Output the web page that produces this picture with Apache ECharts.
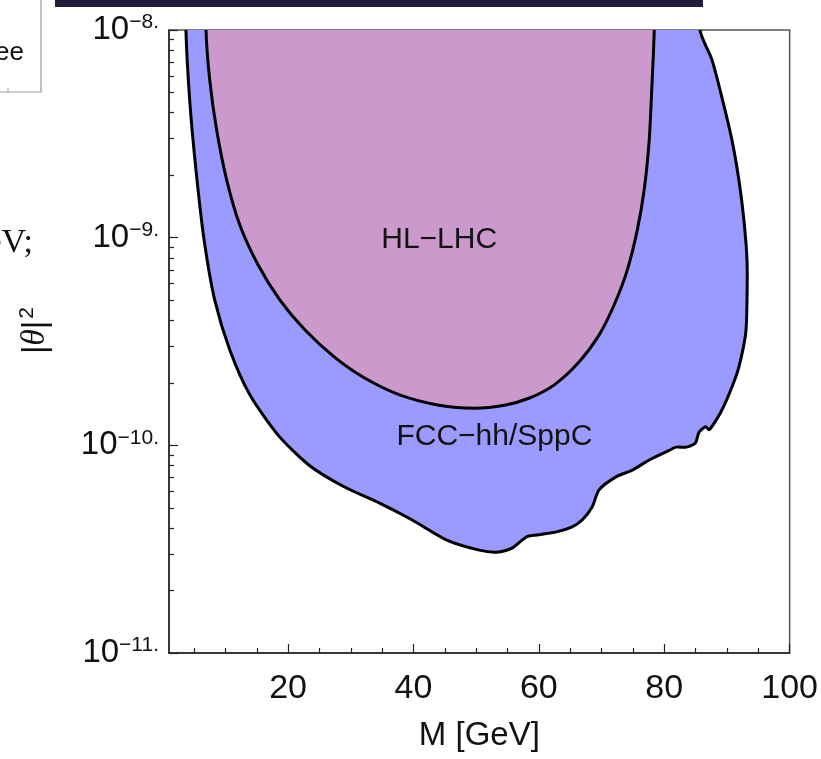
<!DOCTYPE html>
<html>
<head>
<meta charset="utf-8">
<script src="https://cdn.jsdelivr.net/npm/echarts@6/dist/echarts.min.js"></script>
<style>
  html, body { margin: 0; padding: 0; background: #ffffff; }
  #chart { width: 821px; height: 759px; }
</style>
</head>
<body>
<div id="chart"></div>
<script>
// Sensitivity contour of FCC-hh/SppC: heavy neutrino mass M [GeV] vs |theta|^2
const fccMass = [3.7, 4.3, 5.3, 6.6, 8.3, 10.7, 13.9, 18.4, 23.4, 29.0, 34.6, 39.8, 45.3, 50.5, 53.2,
  55.8, 58.0, 59.6, 62.8, 65.3, 66.9, 68.5, 69.6, 72.3, 74.9, 77.6, 80.3, 81.9, 83.5, 85.0,
  85.5, 86.6, 87.1, 87.6, 89.2, 90.8, 91.9, 93.0, 93.2, 93.2, 92.7, 91.9, 90.8, 89.3, 87.6, 85.7];
const fccTheta2 = [1e-8, 4.6e-9, 2.12e-9, 9.75e-10, 5.0e-10, 2.88e-10, 1.75e-10, 1.12e-10, 8.0e-11, 6.3e-11, 5.27e-11,
  4.37e-11, 3.5e-11, 3.13e-11, 3.06e-11, 3.21e-11, 3.62e-11, 3.7e-11, 3.83e-11, 4.05e-11, 4.37e-11, 5.05e-11,
  6.1e-11, 7.05e-11, 7.6e-11, 8.5e-11, 9.3e-11, 9.8e-11, 9.8e-11, 1.03e-10, 1.15e-10, 1.23e-10, 1.19e-10,
  1.23e-10, 1.48e-10, 1.91e-10, 2.38e-10, 3.48e-10, 5.0e-10, 7.8e-10, 1.22e-9, 1.9e-9, 2.95e-9, 4.6e-9, 7.2e-9, 1e-8];

// Sensitivity contour of HL-LHC
const hlMass = [6.9, 7.5, 8.6, 10.2, 12.3, 15.2, 18.7, 22.7, 27.4, 32.2, 37.8, 44.1, 49.7, 54.5, 58.5,
  62.4, 66.4, 69.6, 72.0, 74.1, 75.7, 76.8, 77.6, 78.0, 78.4];
const hlTheta2 = [1e-8, 5.74e-9, 3.3e-9, 1.9e-9, 1.15e-9, 7.4e-10, 5.0e-10, 3.59e-10, 2.66e-10, 2.11e-10, 1.75e-10,
  1.56e-10, 1.51e-10, 1.56e-10, 1.69e-10, 1.95e-10, 2.52e-10, 3.4e-10, 4.74e-10, 6.98e-10, 1.09e-9, 1.7e-9,
  2.95e-9, 5.14e-9, 1e-8];

// Region names and where they sit (M, |theta|^2)
const regionNames = ['FCC\u2212hh/SppC', 'HL\u2212LHC'];
const regionNameAt = [[52.9, 1.1e-10], [44.1, 9.8e-10]];

// Axis ticks
const massMajor = [20, 40, 60, 80, 100];
const massMinor = [5, 10, 15, 25, 30, 35, 45, 50, 55, 65, 70, 75, 85, 90, 95];
const thetaDecades = [1e-11, 1e-10, 1e-9, 1e-8];
const thetaMinor = [];
[1e-11, 1e-10, 1e-9].forEach(function (d) {
  for (let k = 2; k <= 9; k++) thetaMinor.push(+(k * d).toPrecision(3));
});

const FONT = '"Liberation Sans", Arial, Helvetica, sans-serif';
const THETA_TOP = 1e-8;
const chart = echarts.init(document.getElementById('chart'), null, { renderer: 'canvas' });

// Each contour is open at the top edge; it is continued above the frame so
// the smoothed outline and fill close outside the clipped plotting area.
function contour(xs, ys, fill, label, labelAt) {
  const data = xs.map(function (x, i) { return [x, ys[i]]; });
  return {
    type: 'custom',
    coordinateSystem: 'cartesian2d',
    xAxisIndex: 0,
    yAxisIndex: 0,
    clip: true,
    silent: true,
    data: data,
    renderItem: function (params, api) {
      if (params.dataIndex !== 0) return null;
      const pts = data.map(function (d) { return api.coord(d); });
      const first = pts[0], last = pts[pts.length - 1];
      const beyond = api.coord([data[0][0], THETA_TOP * 2])[1];
      const path = [[first[0], beyond]].concat(pts, [[last[0], beyond]]);
      const at = api.coord(labelAt);
      return {
        type: 'group',
        children: [
          { type: 'polygon', shape: { points: path, smooth: 0.25 }, style: { fill: fill, stroke: null } },
          { type: 'polyline', shape: { points: path, smooth: 0.25 },
            style: { stroke: '#000', lineWidth: 3, fill: null, lineJoin: 'round', lineCap: 'round' } },
          { type: 'text', x: at[0], y: at[1],
            style: { text: label, fill: '#111', font: '30px ' + FONT, align: 'center', verticalAlign: 'middle' } }
        ]
      };
    }
  };
}

function powerLabel(v) {
  const e = Math.round(Math.log10(v));
  return '{b|10}{s|\u2212' + (-e) + '.}';
}

const labelRich = {
  b: { fontSize: 33, fontFamily: FONT, color: '#111' },
  s: { fontSize: 21, fontFamily: FONT, color: '#111', verticalAlign: 'top', padding: [0, 0, 15, 0] }
};

chart.setOption({
  animation: false,
  backgroundColor: '#ffffff',
  grid: { left: 169, right: 30, top: 30, bottom: 106, show: true, borderColor: '#555', borderWidth: 1.5 },
  xAxis: [
    {
      type: 'value', min: 1, max: 100, position: 'bottom',
      axisLine: { show: true, lineStyle: { color: '#222', width: 1.5 } },
      axisTick: { show: true, inside: true, length: 9, customValues: massMajor, lineStyle: { color: '#222', width: 1.2 } },
      axisLabel: { show: true, customValues: massMajor, margin: 19, fontSize: 34, fontFamily: FONT, color: '#111' },
      splitLine: { show: false },
      name: 'M [GeV]', nameLocation: 'middle', nameGap: 66,
      nameTextStyle: { fontSize: 33, fontFamily: FONT, color: '#111' }
    },
    {
      type: 'value', min: 1, max: 100, position: 'bottom',
      axisLine: { show: false },
      axisTick: { show: true, inside: true, length: 5, customValues: massMinor, lineStyle: { color: '#222', width: 1.2 } },
      axisLabel: { show: false },
      splitLine: { show: false }
    }
  ],
  yAxis: [
    {
      type: 'log', logBase: 10, min: 1e-11, max: 1e-8, position: 'left',
      axisLine: { show: true, lineStyle: { color: '#222', width: 1.5 } },
      axisTick: { show: true, inside: true, length: 9, customValues: thetaDecades, lineStyle: { color: '#222', width: 1.2 } },
      axisLabel: { show: true, customValues: thetaDecades, margin: 10, formatter: powerLabel, rich: labelRich },
      splitLine: { show: false },
      name: '|{i|\u03b8}|{s|2}', nameLocation: 'middle', nameGap: 115, nameRotate: 90,
      nameTextStyle: {
        fontSize: 33, fontFamily: FONT, color: '#111', padding: [0, 0, 0, 22],
        rich: {
          i: { fontSize: 33, fontFamily: '"Liberation Serif", serif', fontStyle: 'italic', color: '#111' },
          s: { fontSize: 21, fontFamily: FONT, color: '#111', verticalAlign: 'top', padding: [0, 0, 16, 2] }
        }
      }
    },
    {
      type: 'log', logBase: 10, min: 1e-11, max: 1e-8, position: 'left',
      axisLine: { show: false },
      axisTick: { show: true, inside: true, length: 5, customValues: thetaMinor, lineStyle: { color: '#222', width: 1.2 } },
      axisLabel: { show: false },
      splitLine: { show: false }
    }
  ],
  graphic: [
    { type: 'rect', left: 55, top: 0, shape: { width: 648, height: 7 }, style: { fill: '#201c3a' }, z: 10 },
    { type: 'rect', shape: { x: -4, y: -4, width: 45, height: 96 }, style: { fill: null, stroke: '#999', lineWidth: 1.2 }, z: 10 },
    { type: 'line', shape: { x1: 8, y1: 92, x2: 8, y2: 88 }, style: { stroke: '#999', lineWidth: 1 }, z: 10 },
    { type: 'text', x: 24, y: 53, style: { text: 'ee', font: '26px ' + FONT, fill: '#111', align: 'right', verticalAlign: 'middle' }, z: 10 },
    { type: 'text', x: 33, y: 243, style: { text: 'eV;', font: '34px "Liberation Serif", "Times New Roman", serif', fill: '#111', align: 'right', verticalAlign: 'middle' }, z: 10 }
  ],
  series: [
    contour(fccMass, fccTheta2, '#9a9aff', regionNames[0], regionNameAt[0]),
    contour(hlMass, hlTheta2, '#cc99cc', regionNames[1], regionNameAt[1])
  ]
});
</script>
</body>
</html>
